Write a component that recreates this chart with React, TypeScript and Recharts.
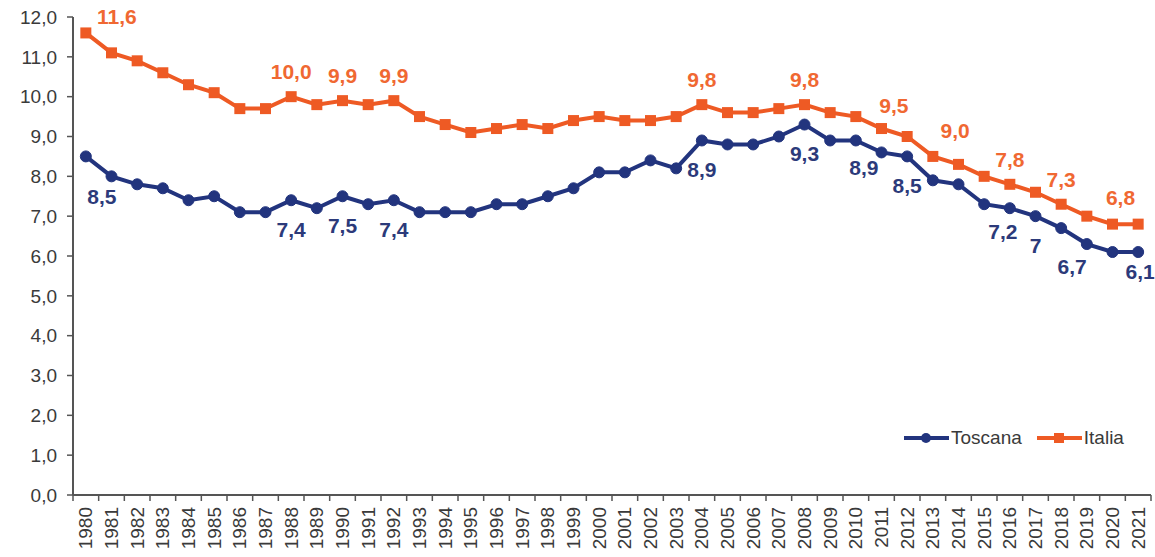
import { LabelList, Legend, Line, LineChart, XAxis, YAxis } from "recharts";

const years = [
  "1980", "1981", "1982", "1983", "1984", "1985", "1986", "1987", "1988", "1989",
  "1990", "1991", "1992", "1993", "1994", "1995", "1996", "1997", "1998", "1999",
  "2000", "2001", "2002", "2003", "2004", "2005", "2006", "2007", "2008", "2009",
  "2010", "2011", "2012", "2013", "2014", "2015", "2016", "2017", "2018", "2019",
  "2020", "2021",
];

const toscana = [
  8.5, 8.0, 7.8, 7.7, 7.4, 7.5, 7.1, 7.1, 7.4, 7.2,
  7.5, 7.3, 7.4, 7.1, 7.1, 7.1, 7.3, 7.3, 7.5, 7.7,
  8.1, 8.1, 8.4, 8.2, 8.9, 8.8, 8.8, 9.0, 9.3, 8.9,
  8.9, 8.6, 8.5, 7.9, 7.8, 7.3, 7.2, 7.0, 6.7, 6.3,
  6.1, 6.1,
];

const italia = [
  11.6, 11.1, 10.9, 10.6, 10.3, 10.1, 9.7, 9.7, 10.0, 9.8,
  9.9, 9.8, 9.9, 9.5, 9.3, 9.1, 9.2, 9.3, 9.2, 9.4,
  9.5, 9.4, 9.4, 9.5, 9.8, 9.6, 9.6, 9.7, 9.8, 9.6,
  9.5, 9.2, 9.0, 8.5, 8.3, 8.0, 7.8, 7.6, 7.3, 7.0,
  6.8, 6.8,
];

const yTicks = [0, 1, 2, 3, 4, 5, 6, 7, 8, 9, 10, 11, 12];

// labelled points (text as printed on the chart)
const toscanaLabels: Record<string, string> = {
  "1980": "8,5", "1988": "7,4", "1990": "7,5", "1992": "7,4", "2004": "8,9",
  "2008": "9,3", "2010": "8,9", "2012": "8,5", "2016": "7,2", "2017": "7",
  "2018": "6,7", "2021": "6,1",
};
const italiaLabels: Record<string, string> = {
  "1980": "11,6", "1988": "10,0", "1990": "9,9", "1992": "9,9", "2004": "9,8",
  "2008": "9,8", "2010": "9,5", "2012": "9,0", "2016": "7,8", "2018": "7,3",
  "2020": "6,8",
};

const data = years.map((year, i) => ({ year, toscana: toscana[i], italia: italia[i] }));

// layout
const W = 1155;
const H = 557;
const MARGIN = { top: 17, right: 4, left: 0, bottom: 0 };
const Y_AXIS_W = 73;
const X_AXIS_H = 62;
const PLOT_W = W - MARGIN.left - MARGIN.right - Y_AXIS_W;
const STEP = PLOT_W / years.length;

const BLUE = "#22347e";
const ORANGE = "#ee5a24";
const BLUE_TEXT = "#2c3a7a";
const ORANGE_TEXT = "#f06832";
const AXIS = "#555";
const TEXT = "#3a3a3a";
const FONT = "Arial, 'Liberation Sans', sans-serif";

// label offsets from their point, in px
const toscanaOffsets: Record<string, [number, number]> = {
  "1980": [16, 40], "2010": [8, 27], "2016": [-7, 23], "2018": [11, 38], "2021": [2, 19],
};
const italiaOffsets: Record<string, [number, number]> = {
  "1980": [31, -16], "2010": [38, -11], "2012": [48, -6], "2020": [8, -27],
};

function makeLabel(
  labels: Record<string, string>,
  offsets: Record<string, [number, number]>,
  def: [number, number],
  color: string
) {
  return (props: any) => {
    const { x, y, index } = props;
    const year = years[index];
    const text = labels[year];
    if (!text) return null;
    const [dx, dy] = offsets[year] ?? def;
    return (
      <text
        x={x + dx}
        y={y + dy}
        textAnchor="middle"
        dominantBaseline="central"
        fill={color}
        fontSize={21}
        fontWeight="bold"
        fontFamily={FONT}
      >
        {text}
      </text>
    );
  };
}

function XTick(props: any) {
  const { x, y, payload } = props;
  const index = payload?.index ?? props.index;
  const ty = y + 12;
  const half = STEP / 2;
  return (
    <g>
      <line x1={x - half} x2={x - half} y1={y} y2={y + 6} stroke={AXIS} strokeWidth={1.5} />
      {index === years.length - 1 && (
        <line x1={x + half} x2={x + half} y1={y} y2={y + 6} stroke={AXIS} strokeWidth={1.5} />
      )}
      <text
        x={x}
        y={ty}
        transform={`rotate(-90, ${x}, ${ty})`}
        textAnchor="end"
        dominantBaseline="central"
        fill={TEXT}
        fontSize={19}
        fontFamily={FONT}
      >
        {payload.value}
      </text>
    </g>
  );
}

function LegendContent() {
  const items = [
    { name: "Toscana", color: BLUE, square: false },
    { name: "Italia", color: ORANGE, square: true },
  ];
  return (
    <div style={{ display: "flex", alignItems: "center", fontFamily: FONT, fontSize: 19, color: TEXT }}>
      {items.map((it) => (
        <div key={it.name} style={{ display: "flex", alignItems: "center", marginRight: 15 }}>
          <svg width={45} height={16} style={{ marginRight: 2 }}>
            <line x1={0} x2={45} y1={8} y2={8} stroke={it.color} strokeWidth={4} />
            {it.square ? (
              <rect x={17} y={3} width={10} height={10} fill={it.color} />
            ) : (
              <circle cx={22} cy={8} r={5} fill={it.color} />
            )}
          </svg>
          <span>{it.name}</span>
        </div>
      ))}
    </div>
  );
}

export default function App() {
  return (
    <div style={{ position: "absolute", left: 0, top: 0, width: W, height: H, background: "#fff" }}>
      <LineChart width={W} height={H} data={data} margin={MARGIN}>
        <XAxis
          dataKey="year"
          interval={0}
          height={X_AXIS_H}
          padding={{ left: STEP / 2, right: STEP / 2 }}
          tickSize={0}
          tickMargin={0}
          tickLine={false}
          axisLine={{ stroke: AXIS, strokeWidth: 2 }}
          tick={<XTick />}
        />
        <YAxis
          width={Y_AXIS_W}
          domain={[0, 12]}
          ticks={yTicks}
          interval={0}
          tickSize={6}
          tickMargin={10}
          tickFormatter={(v: number) => v.toFixed(1).replace(".", ",")}
          tick={{ fill: TEXT, fontSize: 19, fontFamily: FONT }}
          tickLine={{ stroke: AXIS, strokeWidth: 1.5 }}
          axisLine={{ stroke: AXIS, strokeWidth: 2 }}
        />
        <Legend
          layout="horizontal"
          align="center"
          verticalAlign="middle"
          content={<LegendContent />}
          wrapperStyle={{ position: "absolute", left: 904, top: 427, width: "auto", bottom: "auto" }}
        />
        <Line
          dataKey="toscana"
          name="Toscana"
          stroke={BLUE}
          strokeWidth={4}
          dot={{ r: 5.5, fill: BLUE, stroke: BLUE, strokeWidth: 1 }}
          isAnimationActive={false}
        >
          <LabelList dataKey="toscana" content={makeLabel(toscanaLabels, toscanaOffsets, [0, 29], BLUE_TEXT)} />
        </Line>
        <Line
          dataKey="italia"
          name="Italia"
          stroke={ORANGE}
          strokeWidth={4}
          dot={(p: any) => (
            <rect key={`sq-${p.index}`} x={p.cx - 5.5} y={p.cy - 5.5} width={11} height={11} fill={ORANGE} />
          )}
          isAnimationActive={false}
        >
          <LabelList dataKey="italia" content={makeLabel(italiaLabels, italiaOffsets, [0, -25], ORANGE_TEXT)} />
        </Line>
      </LineChart>
    </div>
  );
}
